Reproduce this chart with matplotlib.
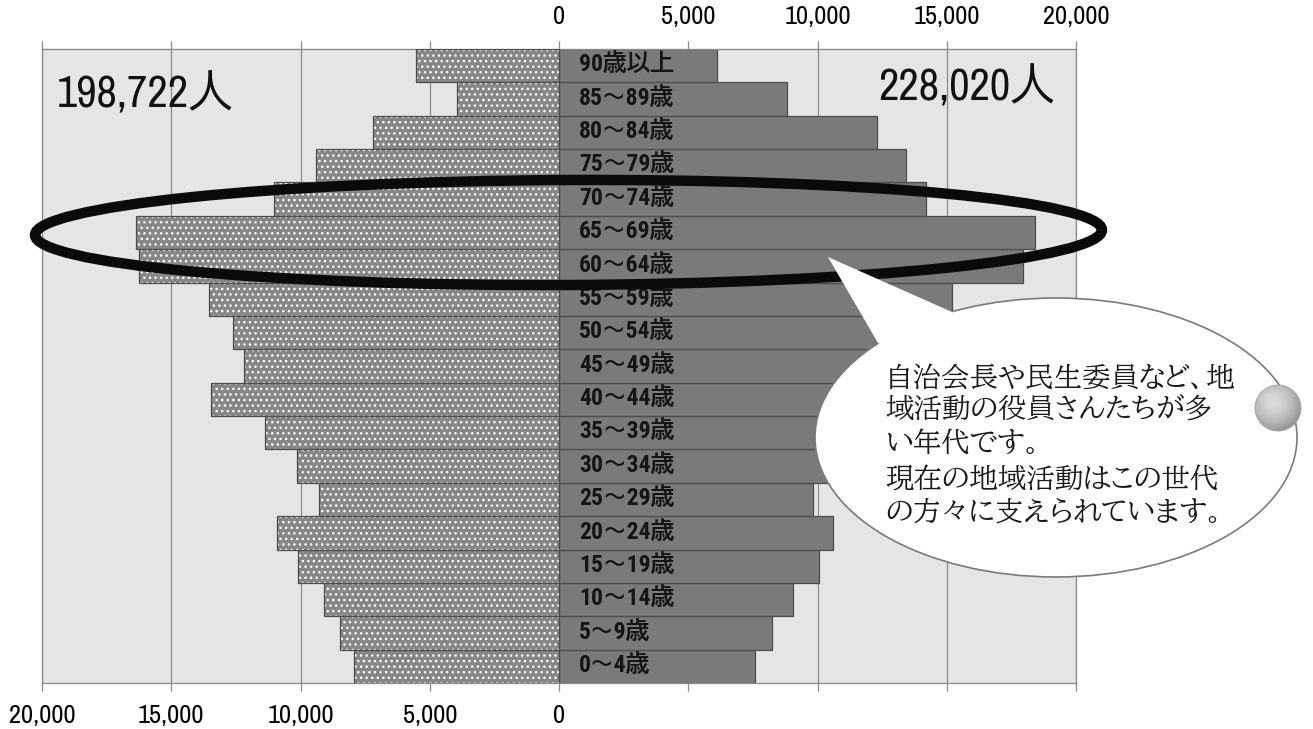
import numpy as np
import matplotlib.pyplot as plt
from matplotlib.patches import Ellipse, Polygon, Circle
from matplotlib.ticker import FuncFormatter, MultipleLocator

plt.rcParams['font.family'] = ['BIZ UDPGothic', 'Noto Sans CJK JP', 'DejaVu Sans']
plt.rcParams['hatch.linewidth'] = 1.0
NARROW = ['Archivo Narrow', 'BIZ UDPGothic', 'DejaVu Sans']
LABEL_FONT = ['Roboto Condensed', 'BIZ UDPGothic', 'DejaVu Sans']
MINCHO = ['BIZ UDPMincho', 'Noto Serif CJK JP', 'DejaVu Serif']

# 年齢階級（下から上へ）
ages = ['0～4歳', '5～9歳', '10～14歳', '15～19歳', '20～24歳', '25～29歳',
        '30～34歳', '35～39歳', '40～44歳', '45～49歳', '50～54歳', '55～59歳',
        '60～64歳', '65～69歳', '70～74歳', '75～79歳', '80～84歳', '85～89歳',
        '90歳以上']
male = np.array([7917, 8463, 9104, 10078, 10912, 9276, 10143, 11368, 13474,
                 12167, 12609, 13523, 16231, 16362, 11029, 9398, 7213, 3932,
                 5523])
female = np.array([7588, 8254, 9037, 10046, 10598, 9812, 11703, 12496, 14551,
                   13502, 14004, 15218, 17933, 18421, 14187, 13434, 12297,
                   8823, 6116])

note_lines = ['自治会長や民生委員など、地',
              '域活動の役員さんたちが多',
              'い年代です。',
              '現在の地域活動はこの世代',
              'の方々に支えられています。']

W, H = 1313, 729
fig = plt.figure(figsize=(W / 100, H / 100), dpi=100)
fig.patch.set_facecolor('white')

ax = fig.add_axes([42 / W, 1 - 683 / H, 1034 / W, 634 / H])
ax.set_facecolor('#e5e5e5')
ax.set_axisbelow(True)
ax.xaxis.grid(True, color='#8a8a8a', lw=0.9)

y = np.arange(len(ages))
# 男性：ドット柄
ax.barh(y, -male, height=1.0, color='#878787', edgecolor='white',
        hatch='...', lw=0, zorder=2)
ax.barh(y, -male, height=1.0, fill=False, edgecolor='#4d4d4d', lw=0.9,
        zorder=3)
# 女性：塗りつぶし
ax.barh(y, female, height=1.0, color='#7a7a7a', edgecolor='#4d4d4d', lw=0.9,
        zorder=2)

for i, age in enumerate(ages):
    ax.text(780, i, age, ha='left', va='center', fontsize=17,
            weight='bold', family=LABEL_FONT, color='#151515', zorder=4)

ax.set_xlim(-20000, 20000)
ax.set_ylim(-0.5, len(ages) - 0.5)
ax.set_yticks([])
ax.xaxis.set_major_locator(MultipleLocator(5000))
ax.xaxis.set_major_formatter(
    FuncFormatter(lambda v, p: f'{abs(v):,.0f}' if v <= 0 else ''))
ax.tick_params(axis='x', direction='out', length=6, width=0.9,
               color='#8a8a8a', pad=9, labelsize=19, labelfontfamily=NARROW)

top = ax.secondary_xaxis('top')
top.xaxis.set_major_locator(MultipleLocator(5000))
top.xaxis.set_major_formatter(
    FuncFormatter(lambda v, p: f'{v:,.0f}' if v >= 0 else ''))
top.tick_params(axis='x', direction='out', length=6, width=0.9,
                color='#8a8a8a', pad=9, labelsize=19, labelfontfamily=NARROW)
top.spines['top'].set_color('#8a8a8a')
for s in ax.spines.values():
    s.set_color('#8a8a8a')
    s.set_linewidth(0.9)

# 注記用のピクセル座標レイヤー
ov = fig.add_axes([0, 0, 1, 1])
ov.set_xlim(0, W)
ov.set_ylim(H, 0)
ov.axis('off')

ov.text(57, 107, f'{male.sum():,}人', fontsize=32, family=NARROW,
        va='baseline', ha='left', color='#111111')
ov.text(878, 100, f'{female.sum():,}人', fontsize=32, family=NARROW,
        va='baseline', ha='left', color='#111111')

# 60～69歳の囲み
ov.add_patch(Ellipse((568.5, 232.5), 1067, 105, angle=-0.27, fill=False,
                     ec='#0a0a0a', lw=7.5, zorder=4))

# 吹き出し
ov.add_patch(Ellipse((1056, 437.5), 482, 279, fc='white', ec='#7a7a7a',
                     lw=1.2, zorder=5))
ov.add_patch(Polygon([(828, 257), (878, 343), (900, 352), (965, 330),
                      (952, 312)], closed=True, fc='white', ec='none',
                     zorder=5.5))

ys = [377, 408, 442, 478, 511]
for line, yy in zip(note_lines, ys):
    ov.text(885, yy, line, fontsize=20.5, va='center', ha='left',
            family=MINCHO, color='#1a1a1a', zorder=8)

# 球
cx, cy, r = 1278, 408, 23
gy, gx = np.mgrid[-1:1:80j, -1:1:80j]
d = np.hypot(gx + 0.2, gy + 0.25)
shade = 0.86 - 0.28 * np.clip(d / 1.3, 0, 1) ** 1.6
img = ov.imshow(shade, cmap='gray', vmin=0, vmax=1,
                extent=(cx - r, cx + r, cy + r, cy - r), origin='upper',
                aspect='auto', interpolation='bilinear', zorder=6)
ball = Circle((cx, cy), r, fc='none', ec='#a0a0a0', lw=0.6, zorder=7)
ov.add_patch(ball)
img.set_clip_path(ball)
ov.set_xlim(0, W)
ov.set_ylim(H, 0)

fig.savefig('out.png', dpi=100)
